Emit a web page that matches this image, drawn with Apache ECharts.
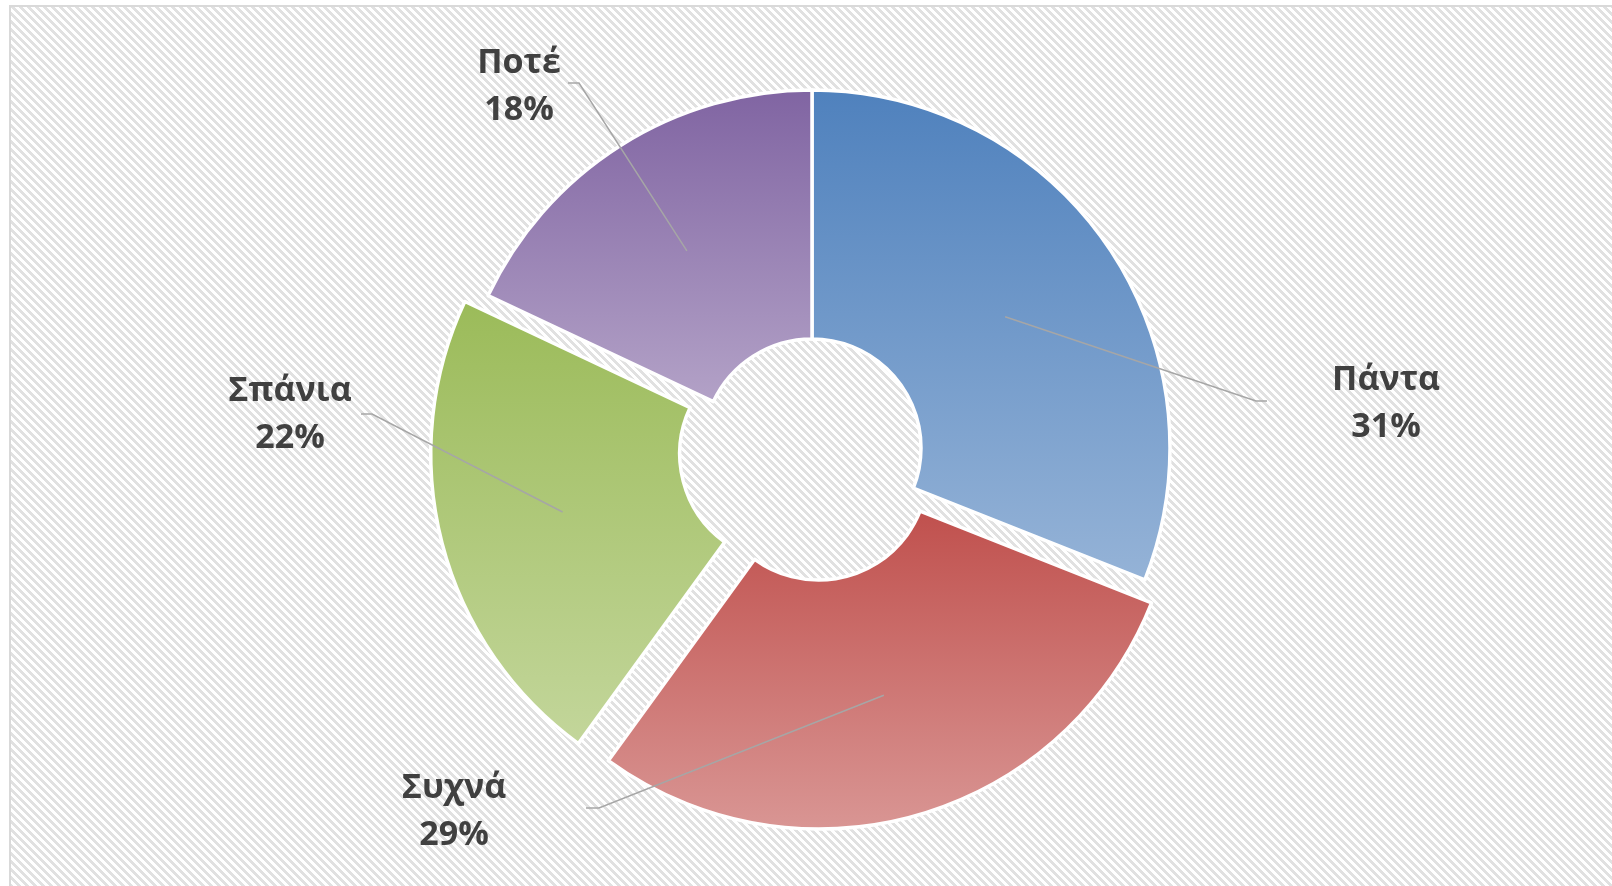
<!DOCTYPE html>
<html>
<head>
<meta charset="utf-8">
<script src="https://cdn.jsdelivr.net/npm/echarts@6/dist/echarts.min.js"></script>
<style>
html,body{margin:0;padding:0;width:1612px;height:886px;overflow:hidden;background:#fff;}
#frame{position:absolute;left:9px;top:5px;width:1700px;height:1000px;border:2px solid #d9d9d9;box-sizing:border-box;}
#chart{position:absolute;left:0;top:0;width:1612px;height:886px;}
</style>
</head>
<body>
<div id="frame"></div>
<div id="chart"></div>
<script>
// ---- data ----
const categories = ['Πάντα', 'Συχνά', 'Σπάνια', 'Ποτέ'];
const values = [31, 29, 22, 18];

// ---- styling / layout (not data) ----
const topColors = ['#4f81bd', '#c0504d', '#9bbb59', '#8064a2'];
const bottomColors = ['#95b3d7', '#d99694', '#c3d69b', '#b3a2c7'];
const exploded = [false, true, true, false];
const CX = 812, CY = 448, R_IN = 109, R_OUT = 358, EXPLODE = 24;
const labelSpots = [
  { x: 1386, y: 404, elbow: [1256, 401], end: [1267, 401] },
  { x: 454, y: 812, elbow: [599, 808], end: [586, 808] },
  { x: 290, y: 415, elbow: [372, 414], end: [361, 414] },
  { x: 519, y: 87, elbow: [579, 83], end: [568, 83] }
];

// hatched background pattern
(function () {
  const c = document.createElement('canvas');
  c.width = 8; c.height = 8;
  const g = c.getContext('2d');
  g.fillStyle = '#ffffff'; g.fillRect(0, 0, 8, 8);
  g.fillStyle = '#e1e1e1';
  for (let y = 0; y < 8; y++) for (let x = 0; x < 8; x++) {
    if ((((x - y) % 8) + 8) % 8 < 4) g.fillRect(x, y, 1, 1);
  }
  document.getElementById('frame').style.backgroundImage = 'url(' + c.toDataURL() + ')';
})();

const total = values.reduce((a, b) => a + b, 0);
function midAngle(i) {
  let cum = 0;
  for (let k = 0; k < i; k++) cum += values[k];
  return (cum + values[i] / 2) / total * 2 * Math.PI;
}

const mainData = categories.map((name, i) => ({
  name: name,
  value: values[i],
  selected: exploded[i],
  itemStyle: {
    color: {
      type: 'linear', x: 0, y: 0, x2: 0, y2: 1,
      colorStops: [{ offset: 0, color: topColors[i] }, { offset: 1, color: bottomColors[i] }]
    }
  }
}));

const helperData = categories.map((name, i) => ({ name: name, value: values[i] }));

const chart = echarts.init(document.getElementById('chart'), null, { renderer: 'canvas' });
chart.setOption({
  animation: false,
  backgroundColor: 'transparent',
  series: [
    {
      type: 'pie',
      center: [CX, CY],
      radius: [R_IN, R_OUT],
      startAngle: 90,
      clockwise: true,
      selectedMode: 'multiple',
      selectedOffset: EXPLODE,
      silent: true,
      label: { show: false },
      labelLine: { show: false },
      itemStyle: { borderColor: '#ffffff', borderWidth: 3.5 },
      emphasis: { disabled: true },
      data: mainData,
      z: 2
    },
    {
      type: 'pie',
      center: [CX, CY],
      radius: [0, 5],
      startAngle: 90,
      clockwise: true,
      silent: true,
      avoidLabelOverlap: false,
      itemStyle: { color: 'rgba(0,0,0,0)', borderWidth: 0 },
      emphasis: { disabled: true },
      label: {
        show: true,
        position: 'outside',
        formatter: function (p) { return p.name + '\n' + p.value + '%'; },
        fontFamily: '"Open Sans", "DejaVu Sans", sans-serif',
        fontWeight: 'bold',
        fontSize: 34,
        lineHeight: 47,
        color: '#404040',
        align: 'center'
      },
      labelLine: { show: true, lineStyle: { color: '#a6a6a6', width: 1.5 } },
      labelLayout: function (params) {
        const i = params.dataIndex;
        const a = midAngle(i);
        const dx = Math.sin(a), dy = -Math.cos(a);
        const rr = (R_IN + R_OUT) / 2 + (exploded[i] ? EXPLODE : 0);
        const start = [CX + dx * rr, CY + dy * rr];
        const s = labelSpots[i];
        return {
          x: s.x, y: s.y, align: 'center', verticalAlign: 'middle',
          labelLinePoints: [start, s.elbow, s.end]
        };
      },
      data: helperData,
      z: 5
    }
  ]
});
</script>
</body>
</html>
